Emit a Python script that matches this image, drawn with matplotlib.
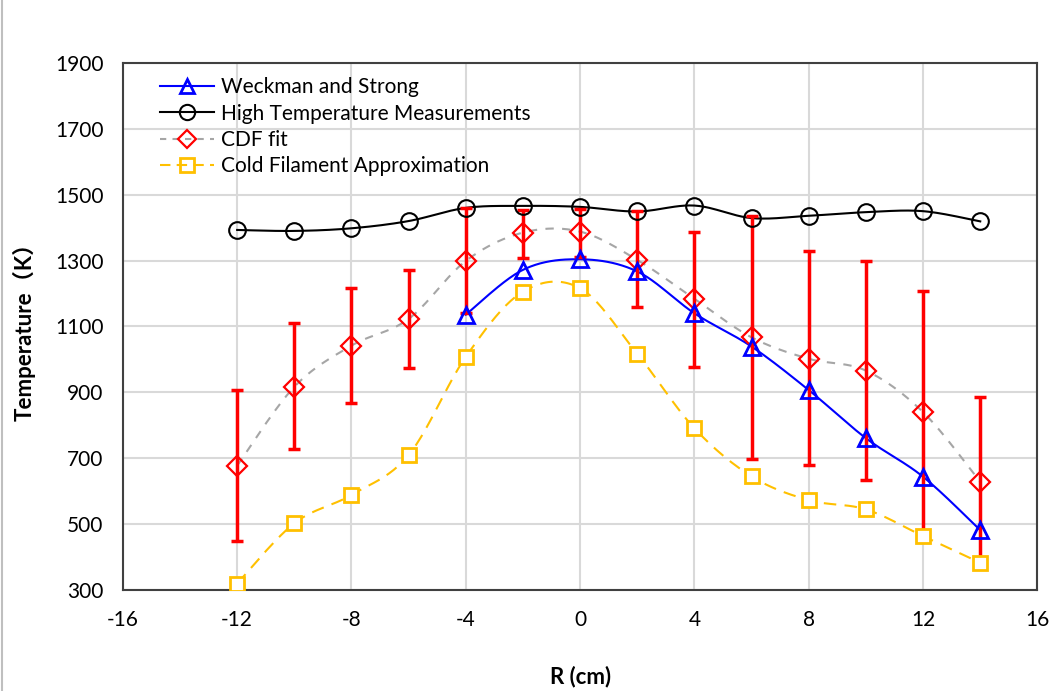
import numpy as np
import matplotlib
matplotlib.use("Agg")
from matplotlib import pyplot as plt
from matplotlib.lines import Line2D

# ---------------- data ----------------
r_hot = [-12, -10, -8, -6, -4, -2, 0, 2, 4, 6, 8, 10, 12, 14]
t_hot = [1393, 1390, 1398, 1420, 1460, 1466, 1463, 1449, 1467, 1429, 1436, 1447, 1450, 1419]

r_cdf = [-12, -10, -8, -6, -4, -2, 0, 2, 4, 6, 8, 10, 12, 14]
t_cdf = [678, 917, 1042, 1123, 1299, 1385, 1388, 1302, 1184, 1067, 1002, 966, 840, 629]
cdf_top = [907, 1112, 1216, 1272, 1460, 1454, 1456, 1449, 1386, 1435, 1330, 1300, 1209, 887]
cdf_bot = [450, 727, 867, 973, 1140, 1307, 1310, 1158, 978, 697, 680, 634, 472, 373]

r_wk = [-4, -2, 0, 2, 4, 6, 8, 10, 12, 14]
t_wk = [1136, 1272, 1304, 1267, 1140, 1039, 907, 761, 644, 482]

r_cold = [-12, -10, -8, -6, -4, -2, 0, 2, 4, 6, 8, 10, 12, 14]
t_cold = [320, 503, 589, 710, 1008, 1206, 1216, 1017, 791, 645, 573, 545, 464, 383]

xticks = [-16, -12, -8, -4, 0, 4, 8, 12, 16]
yticks = [300, 500, 700, 900, 1100, 1300, 1500, 1700, 1900]


def smooth(x, y, n=24):
    # Excel-like smoothed line (uniform Catmull-Rom through the points)
    x = np.asarray(x, float)
    y = np.asarray(y, float)
    px = np.concatenate([[x[0]], x, [x[-1]]])
    py = np.concatenate([[y[0]], y, [y[-1]]])
    t = np.linspace(0, 1, n)
    xs, ys = [], []
    for i in range(1, len(px) - 2):
        for p, out in ((px, xs), (py, ys)):
            p0, p1, p2, p3 = p[i - 1], p[i], p[i + 1], p[i + 2]
            out.extend(0.5 * ((2 * p1) + (-p0 + p2) * t
                              + (2 * p0 - 5 * p1 + 4 * p2 - p3) * t ** 2
                              + (-p0 + 3 * p1 - 3 * p2 + p3) * t ** 3))
    return xs, ys


plt.rcParams['font.family'] = ['Lato', 'Noto Sans CJK SC', 'DejaVu Sans']
plt.rcParams['axes.unicode_minus'] = False
fig = plt.figure(figsize=(10.5, 6.91), dpi=100)
ax = fig.add_axes([0.117, 0.146, 0.871, 0.763])

orange = '#FFC000'

# lines
ax.plot(*smooth(r_cdf, t_cdf), color='#a6a6a6', linestyle=(0, (4, 4)), lw=1.5, zorder=2)
ax.plot(*smooth(r_cold, t_cold), color=orange, linestyle=(0, (6, 4)), lw=1.5, zorder=2)
ax.plot(*smooth(r_wk, t_wk), color='#0000ff', lw=1.5, zorder=3)
ax.plot(*smooth(r_hot, t_hot), color='black', lw=1.5, zorder=3)

# error bars for CDF fit
yerr = [np.array(t_cdf) - np.array(cdf_bot), np.array(cdf_top) - np.array(t_cdf)]
ax.errorbar(r_cdf, t_cdf, yerr=yerr, fmt='none', ecolor='#ff0000', elinewidth=2.5,
            capsize=4, capthick=2.5, zorder=4)

# markers
ax.plot(r_cold, t_cold, 's', ms=10, mfc='white', mec=orange, mew=2, ls='none', zorder=5)
ax.plot(r_cdf, t_cdf, 'D', ms=10, mfc='none', mec='#ff0000', mew=1.6, ls='none', zorder=6)
ax.plot(r_wk, t_wk, '^', ms=11, mfc='none', mec='#0000ff', mew=2, ls='none', zorder=6)
ax.plot(r_hot, t_hot, 'o', ms=12, mfc='none', mec='black', mew=1.5, ls='none', zorder=6)

ax.set_xlim(-16, 16)
ax.set_ylim(300, 1900)
ax.set_xticks(xticks)
ax.set_yticks(yticks)
ax.tick_params(length=0, labelsize=15, pad=14)
ax.grid(True, color='#d9d9d9', lw=1.5)
ax.set_axisbelow(True)
for s in ax.spines.values():
    s.set_color('#404040')
    s.set_linewidth(1.5)

ax.set_xlabel('R (cm)', fontsize=16, fontweight='bold', labelpad=26)
ax.set_ylabel('Temperature（K）', fontsize=16, fontweight='bold', labelpad=14)

handles = [
    Line2D([], [], color='#0000ff', lw=1.5, marker='^', ms=10, mfc='none', mec='#0000ff', mew=2),
    Line2D([], [], color='black', lw=1.5, marker='o', ms=11, mfc='none', mec='black', mew=1.5),
    Line2D([], [], color='#a6a6a6', lw=1.5, ls=(0, (3, 3)), marker='D', ms=9, mfc='none', mec='#ff0000', mew=1.6),
    Line2D([], [], color=orange, lw=1.5, ls=(0, (5, 3)), marker='s', ms=10, mfc='none', mec=orange, mew=2),
]
labels = ['Weckman and Strong', 'High Temperature Measurements', 'CDF fit', 'Cold Filament Approximation']
ax.legend(handles, labels, loc='upper left', bbox_to_anchor=(0.025, 1.0), frameon=False,
          fontsize=15, handlelength=2.6, handletextpad=0.3, labelspacing=0.3, borderaxespad=0.3)

fig.add_artist(Line2D([0.002, 0.002], [0, 1], color='#bfbfbf', lw=1.5, transform=fig.transFigure))

fig.savefig('out.png', dpi=100)
